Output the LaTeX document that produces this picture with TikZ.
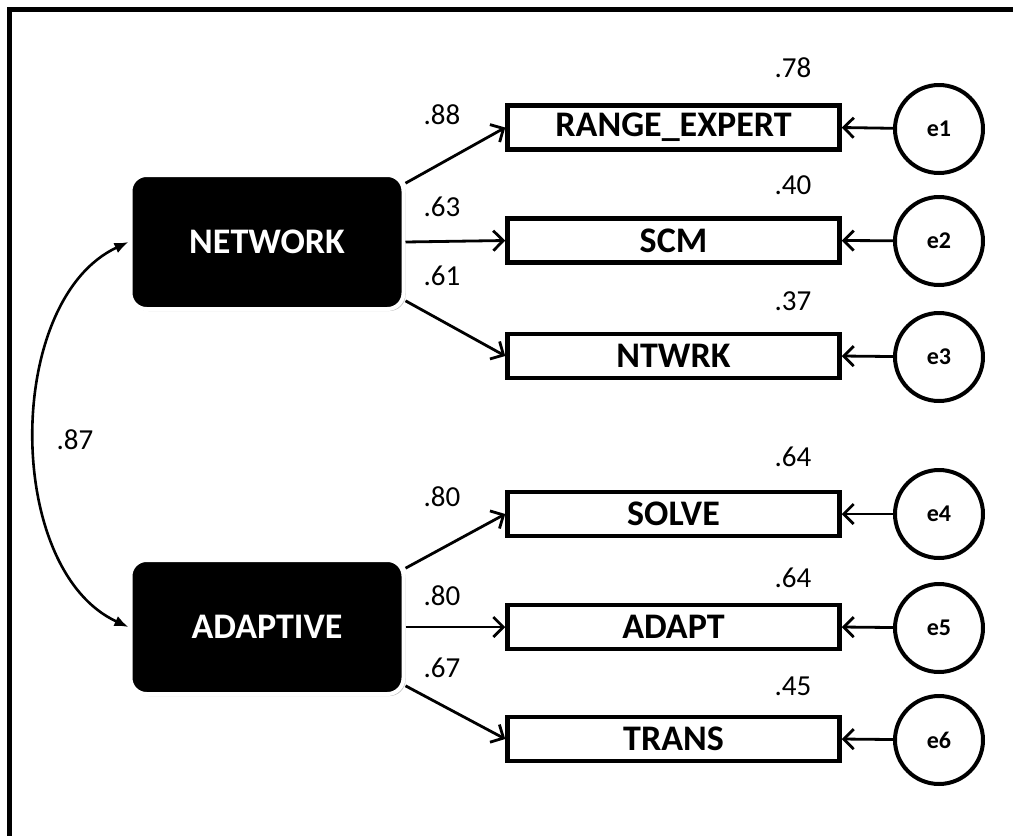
\documentclass[tikz,border=0pt]{standalone}
\usepackage{fontspec}
\setmainfont{Carlito}
\usetikzlibrary{arrows.meta,shadows}
\begin{document}
\begin{tikzpicture}[x=1pt,y=-1pt,
 latent/.style={rectangle, rounded corners=16pt, fill=black, draw=white, line width=4pt,
   minimum width=273pt, minimum height=134pt, text=white, inner sep=0pt,
   font=\fontsize{36}{40}\selectfont\bfseries,
   drop shadow={shadow xshift=2pt, shadow yshift=-2pt, opacity=0.25, fill=black}},
 observed/.style={rectangle, draw=black, line width=4.5pt, fill=white,
   minimum width=332pt, minimum height=44pt, inner sep=0pt,
   font=\fontsize{36}{40}\selectfont\bfseries},
 err/.style={circle, draw=black, line width=4pt, minimum size=88pt, inner sep=0pt,
   font=\fontsize{24}{26}\selectfont\bfseries},
 coef/.style={font=\fontsize{29}{31}\selectfont, inner sep=0pt},
 pth/.style={line width=2.8pt, -{Straight Barb[length=10pt,width=20pt]}},
 cov/.style={line width=2.6pt, {Latex[length=14pt,width=11pt]}-{Latex[length=14pt,width=11pt]}},
]
\useasboundingbox (0,0) rectangle (1013,836);
\clip (0,0) rectangle (1013,836);
\draw[line width=5pt] (9.5,9.5) rectangle (1040,870);

\node[latent] (net) at (267,242) {NETWORK};
\node[latent] (ada) at (267,627) {ADAPTIVE};

\node[observed] (rex) at (673.5,127.5) {RANGE\_EXPERT};
\node[observed] (scm) at (673.5,240.5) {SCM};
\node[observed] (ntw) at (673.5,356) {NTWRK};
\node[observed] (sol) at (673.5,514) {SOLVE};
\node[observed] (adp) at (673.5,627) {ADAPT};
\node[observed] (trn) at (673.5,739) {TRANS};

\node[err] (e1) at (939,129) {e1};
\node[err] (e2) at (939,241) {e2};
\node[err] (e3) at (939,357) {e3};
\node[err] (e4) at (939,514) {e4};
\node[err] (e5) at (939,628) {e5};
\node[err] (e6) at (939,740) {e6};

\draw[pth] (net.23) -- (rex.west);
\draw[pth] (net.east) -- (scm.west);
\draw[pth] (net.-23) -- (ntw.west);
\draw[pth] (ada.23) -- (sol.west);
\draw[pth] (ada.east) -- (adp.west);
\draw[pth] (ada.-23) -- (trn.west);

\draw[pth] (e1) -- (rex.east);
\draw[pth] (e2) -- (scm.east);
\draw[pth] (e3) -- (ntw.east);
\draw[pth] (e4) -- (sol.east);
\draw[pth] (e5) -- (adp.east);
\draw[pth] (e6) -- (trn.east);

\draw[cov] (net.west) .. controls (4,300) and (4,570) .. (ada.west);

\node[coef] (l1) at (442,115) {.88};
\node[coef] (l2) at (442,207) {.63};
\node[coef] (l3) at (442,276) {.61};
\node[coef] (l4) at (442,497) {.80};
\node[coef] (l5) at (442,596) {.80};
\node[coef] (l6) at (442,668) {.67};

\node[coef] (r1) at (793,68) {.78};
\node[coef] (r2) at (793,185) {.40};
\node[coef] (r3) at (793,301) {.37};
\node[coef] (r4) at (793,457) {.64};
\node[coef] (r5) at (793,578) {.64};
\node[coef] (r6) at (793,686) {.45};

\node[coef] (c1) at (75,440) {.87};
\end{tikzpicture}
\end{document}
